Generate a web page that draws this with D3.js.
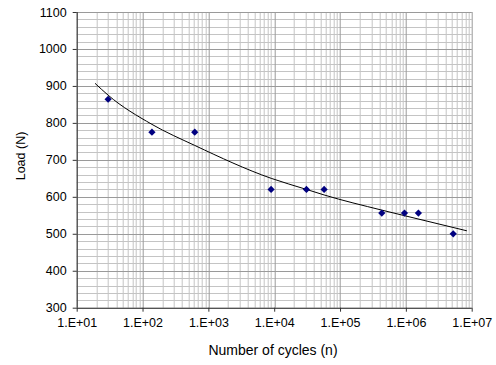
<!DOCTYPE html>
<html>
<head>
<meta charset="utf-8">
<script src="https://cdn.jsdelivr.net/npm/d3@7"></script>
<style>
  body { margin: 0; background: #fff; }
  text { font-family: "Liberation Sans", Arial, sans-serif; fill: #000; }
</style>
</head>
<body>
<div id="chart"></div>
<script>
// measured points (cycles, load)
var cycles = [30, 139, 621, 8970, 30900, 57300, 431000, 953000, 1550000, 5240000];
var loads = [864, 775, 775, 620, 620, 620, 556, 556, 556, 500];

// trend curve
var trendCycles = [19, 30, 139, 621, 9000, 30900, 57300, 431000, 953000, 8450000];
var trendLoads = [907, 875, 796, 739, 650, 620, 605, 564, 549, 508];

var xTicks = [1e1, 1e2, 1e3, 1e4, 1e5, 1e6, 1e7];
var yTicks = [300, 400, 500, 600, 700, 800, 900, 1000, 1100];

var WIDTH = 496, HEIGHT = 365;
var margin = {top: 12, right: 24.3, bottom: 57.3, left: 76.7};
var w = WIDTH - margin.left - margin.right,
	h = HEIGHT - margin.top - margin.bottom;

var svg = d3.select('#chart').append('svg')
	.attr('width', WIDTH)
	.attr('height', HEIGHT);

var g = svg.append('g')
	.attr('transform', 'translate(' + margin.left + ',' + margin.top + ')');

var x = d3.scaleLog().domain([1e1, 1e7]).range([0, w]);
var y = d3.scaleLinear().domain([300, 1100]).range([h, 0]);

// minor grid: 2..9 in each decade, every 20 N
var minorX = [];
for (var d = 1; d < 7; d++) {
	for (var k = 2; k <= 9; k++) minorX.push(k * Math.pow(10, d));
}
var minorY = d3.range(300, 1101, 20);

g.append('g').selectAll('line').data(minorX).enter().append('line')
	.attr('x1', function(v) { return Math.round(x(v)) + 0.5; })
	.attr('x2', function(v) { return Math.round(x(v)) + 0.5; })
	.attr('y1', 0).attr('y2', h)
	.attr('stroke', '#c4c4c4').attr('stroke-width', 1);

g.append('g').selectAll('line').data(minorY).enter().append('line')
	.attr('y1', function(v) { return Math.round(y(v)) + 0.5; })
	.attr('y2', function(v) { return Math.round(y(v)) + 0.5; })
	.attr('x1', 0).attr('x2', w)
	.attr('stroke', '#c4c4c4').attr('stroke-width', 1);

// major grid
g.append('g').selectAll('line').data(xTicks).enter().append('line')
	.attr('x1', function(v) { return Math.round(x(v)) + 0.5; })
	.attr('x2', function(v) { return Math.round(x(v)) + 0.5; })
	.attr('y1', 0).attr('y2', h)
	.attr('stroke', '#9a9a9a').attr('stroke-width', 1);

g.append('g').selectAll('line').data(yTicks).enter().append('line')
	.attr('y1', function(v) { return Math.round(y(v)) + 0.5; })
	.attr('y2', function(v) { return Math.round(y(v)) + 0.5; })
	.attr('x1', 0).attr('x2', w)
	.attr('stroke', '#9a9a9a').attr('stroke-width', 1);

// axes
var xAxis = d3.axisBottom(x).tickValues(xTicks).tickSize(4).tickPadding(6)
	.tickFormat(function(v) { return '1.E+' + d3.format('02d')(Math.round(Math.log10(v))); });
var yAxis = d3.axisLeft(y).tickValues(yTicks).tickSize(4).tickPadding(6)
	.tickFormat(d3.format('d'));

var gx = g.append('g').attr('transform', 'translate(0,' + h + ')').call(xAxis);
var gy = g.append('g').call(yAxis);

[gx, gy].forEach(function(a) {
	a.select('.domain').attr('stroke', '#333');
	a.selectAll('.tick line').attr('stroke', '#333');
	a.selectAll('text').style('font-size', '12.5px').style('font-family', '"Liberation Sans", Arial, sans-serif');
});
gx.select('.domain').attr('d', 'M0,0.5H' + w);
gy.select('.domain').attr('d', 'M0.5,0V' + h);

// trend line
var line = d3.line()
	.x(function(d, i) { return x(trendCycles[i]); })
	.y(function(d, i) { return y(trendLoads[i]); })
	.curve(d3.curveMonotoneX);

g.append('path')
	.datum(trendCycles)
	.attr('d', line)
	.attr('fill', 'none')
	.attr('stroke', '#000')
	.attr('stroke-width', 1);

// diamonds
g.append('g').selectAll('path').data(cycles).enter().append('path')
	.attr('d', d3.symbol().type(d3.symbolSquare).size(26))
	.attr('transform', function(v, i) {
		return 'translate(' + x(v) + ',' + y(loads[i]) + ') rotate(45)';
	})
	.attr('fill', '#000080');

// axis titles
svg.append('text')
	.attr('x', 273)
	.attr('y', 355)
	.attr('text-anchor', 'middle')
	.style('font-size', '14px')
	.text('Number of cycles (n)');

svg.append('text')
	.attr('transform', 'translate(25,156) rotate(-90)')
	.attr('text-anchor', 'middle')
	.style('font-size', '12.5px')
	.text('Load (N)');
</script>
</body>
</html>
